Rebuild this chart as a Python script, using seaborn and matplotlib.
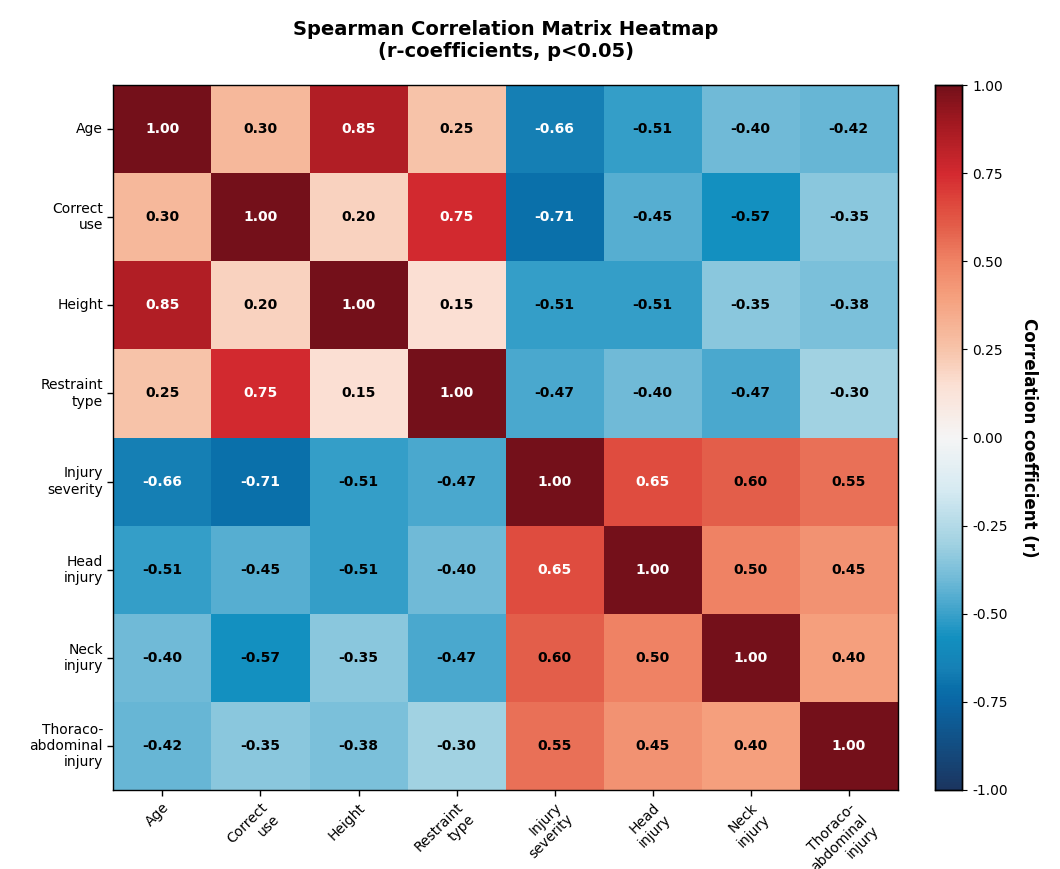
import numpy as np
import pandas as pd
import matplotlib
matplotlib.use('Agg')
import matplotlib.pyplot as plt
from matplotlib.colors import LinearSegmentedColormap
import seaborn as sns

# Variables (labels as shown, with line breaks)
variables = ['Age', 'Correct\nuse', 'Height', 'Restraint\ntype', 'Injury\nseverity',
             'Head\ninjury', 'Neck\ninjury', 'Thoraco-\nabdominal\ninjury']

# Spearman r values, row by row
row_age = [1.00, 0.30, 0.85, 0.25, -0.66, -0.51, -0.40, -0.42]
row_correct = [0.30, 1.00, 0.20, 0.75, -0.71, -0.45, -0.57, -0.35]
row_height = [0.85, 0.20, 1.00, 0.15, -0.51, -0.51, -0.35, -0.38]
row_restraint = [0.25, 0.75, 0.15, 1.00, -0.47, -0.40, -0.47, -0.30]
row_severity = [-0.66, -0.71, -0.51, -0.47, 1.00, 0.65, 0.60, 0.55]
row_head = [-0.51, -0.45, -0.51, -0.40, 0.65, 1.00, 0.50, 0.45]
row_neck = [-0.40, -0.57, -0.35, -0.47, 0.60, 0.50, 1.00, 0.40]
row_thoraco = [-0.42, -0.35, -0.38, -0.30, 0.55, 0.45, 0.40, 1.00]

corr = pd.DataFrame([row_age, row_correct, row_height, row_restraint,
                     row_severity, row_head, row_neck, row_thoraco],
                    index=variables, columns=variables)

# red-blue map, tuned to the colours of the original colourbar
cmap_nodes = [(-1.00, '#1b3560'), (-0.75, '#0a67a5'), (-0.71, '#0a70aa'),
              (-0.66, '#1680b5'), (-0.57, '#1290c0'), (-0.50, '#3ca2ca'),
              (-0.40, '#72bbd8'), (-0.30, '#a2d2e2'), (-0.15, '#d6eaf2'),
              (0.00, '#f5f5f5'), (0.15, '#fbe0d4'), (0.25, '#f7c4aa'),
              (0.40, '#f5a07e'), (0.50, '#f08466'), (0.60, '#e35e4a'),
              (0.65, '#e04e40'), (0.75, '#d42a30'), (0.90, '#a01820'),
              (1.00, '#74101a')]
cmap = LinearSegmentedColormap.from_list(
    'rdbu_sat', [((v + 1) / 2, c) for v, c in cmap_nodes])

fig = plt.figure(figsize=(10.6, 8.69), dpi=100)
ax = fig.add_axes([0.107, 0.091, 0.740, 0.811])
cax = fig.add_axes([0.882, 0.091, 0.026, 0.811])

sns.heatmap(corr, ax=ax, cbar_ax=cax, cmap=cmap, vmin=-1, vmax=1,
            annot=False, square=False,
            cbar_kws={'ticks': [-1, -0.75, -0.5, -0.25, 0, 0.25, 0.5, 0.75, 1]})

# Annotations: white on strong colours, black otherwise
for i in range(len(variables)):
    for j in range(len(variables)):
        v = corr.iloc[i, j]
        color = 'white' if abs(v) > 0.62 else 'black'
        ax.text(j + 0.5, i + 0.5, f"{v:.2f}", ha='center', va='center',
                fontsize=10, fontweight='bold', color=color)

for side in ['top', 'right', 'bottom', 'left']:
    ax.spines[side].set_visible(True)
    ax.spines[side].set_linewidth(1.0)

ax.set_xticklabels(variables, rotation=45, ha='right', rotation_mode='anchor', fontsize=10)
ax.set_yticklabels(variables, rotation=0, fontsize=10)
ax.tick_params(axis='both', length=4, width=1)
ax.set_xlabel('')
ax.set_ylabel('')
ax.set_title('Spearman Correlation Matrix Heatmap\n(r-coefficients, p<0.05)',
             fontsize=14, fontweight='bold', pad=20)

cax.tick_params(labelsize=10)
cax.yaxis.set_major_formatter(matplotlib.ticker.FormatStrFormatter('%.2f'))
cax.set_ylabel('Correlation coefficient (r)', fontsize=12, fontweight='bold',
               rotation=270, labelpad=22)
for s in cax.spines.values():
    s.set_visible(True)
    s.set_linewidth(1.0)

fig.savefig('out.png', dpi=100)
